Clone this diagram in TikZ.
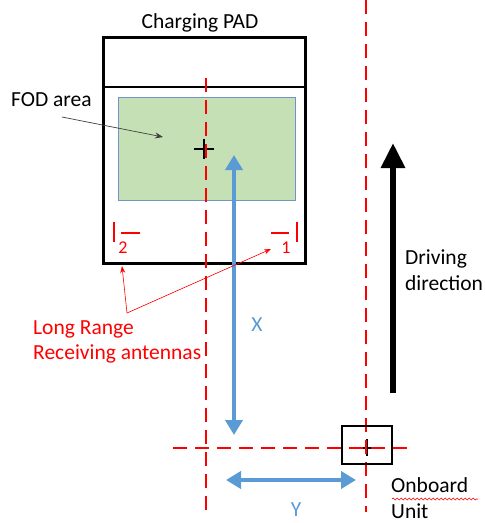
\documentclass[tikz,border=0pt]{standalone}
\usepackage{fontspec}
\setmainfont{Carlito}
\usetikzlibrary{arrows.meta,decorations.pathmorphing}
\definecolor{fodgreen}{HTML}{C5E0B4}
\definecolor{fodblue}{HTML}{7094C8}
\definecolor{dimblue}{HTML}{5B9BD5}
\definecolor{antred}{HTML}{FF0000}
\tikzset{
  padbox/.style={draw=black, line width=2.6pt},
  reddash/.style={draw=antred, line width=2pt, dash pattern=on 14pt off 8pt},
  dimarrow/.style={draw=dimblue, line width=4.5pt, {Triangle[width=17pt,length=15pt]}-{Triangle[width=17pt,length=15pt]}},
  antmark/.style={draw=antred, line width=2.2pt},
  lbl/.style={font=\fontsize{21.5}{25}\selectfont, inner sep=0pt},
  redlbl/.style={lbl, text=antred, align=left},
  pointer/.style={draw=antred, line width=0.6pt, -{Stealth[length=7pt,width=5pt]}},
}
\begin{document}
\begin{tikzpicture}[x=1pt,y=-1pt]
\useasboundingbox (0,0) rectangle (485,523);
% Charging pad
\node[padbox, minimum width=202pt, minimum height=226pt, inner sep=0pt, anchor=north west] (pad) at (102,36) {};
\draw[line width=2.6pt] (102,87) -- (304,87);
\node[lbl, anchor=base] (padlbl) at (200,28) {Charging PAD};
% FOD area
\node[draw=fodblue, fill=fodgreen, line width=0.8pt, minimum width=177pt, minimum height=103pt, inner sep=0pt, anchor=north west] (fod) at (118,97) {};
\node[lbl, anchor=west] (fodlbl) at (11,100) {FOD area};
\coordinate (fodtip) at (163,137);
\draw[draw=black!75, line width=0.7pt, -{Stealth[length=8pt,width=6pt]}] (62,117) -- (fodtip);
% center cross of pad
\draw[line width=2pt] (194,149) -- (214,149) (204,139) -- (204,159);
% black small cross of onboard unit
\draw[line width=1.6pt] (367,439) -- (367,456) (358,448) -- (376,448);
% red dashed lines
\draw[reddash] (206,78) -- (206,516);
\draw[reddash] (366,0) -- (366,512);
\draw[reddash] (173,448) -- (412,448);
% Onboard unit box
\node[padbox, minimum width=50pt, minimum height=38pt, inner sep=0pt] (obu) at (367,445) {};
\node[lbl, anchor=north west, align=left, font=\fontsize{21.5}{26}\selectfont] (obulbl) at (391,477) {Onboard\\Unit};
\draw[draw=antred, line width=0.6pt, decorate, decoration={snake, amplitude=1pt, segment length=4pt}] (392,499) -- (478,499);
% dimension arrows
\draw[dimarrow] (234,155) -- (234,435);
\node[lbl, text=dimblue] (xlbl) at (257,325) {X};
\draw[dimarrow] (226,480) -- (356,480);
\node[lbl, text=dimblue] (ylbl) at (296,510) {Y};
% driving direction
\coordinate (drvbot) at (393,393);
\coordinate (drvtop) at (393,143);
\draw[line width=6pt, -{Triangle[width=23pt,length=25pt]}] (drvbot) -- (drvtop);
\node[lbl, anchor=west, align=left, font=\fontsize{21.5}{26}\selectfont] (drvlbl) at (405,270) {Driving\\direction};
% antennas
\draw[antmark] (114,222) -- (114,242) (121,233) -- (140,233);
\node[inner sep=0pt, text=antred, font=\fontsize{18}{18}\selectfont] (ant2) at (123,248) {2};
\draw[antmark] (297,222) -- (297,242) (271,233) -- (289,233);
\node[inner sep=0pt, text=antred, font=\fontsize{18}{18}\selectfont] (ant1) at (286,248) {1};
% long range label and pointers
\node[redlbl, anchor=north west] (lrlbl) at (33,320) {Long Range\\Receiving antennas};
\coordinate (lrv) at (127,313);
\coordinate (tip2) at (122,266);
\coordinate (tip1) at (271,249);
\draw[pointer] (lrv) -- (tip2);
\draw[pointer] (lrv) -- (tip1);
\end{tikzpicture}
\end{document}
